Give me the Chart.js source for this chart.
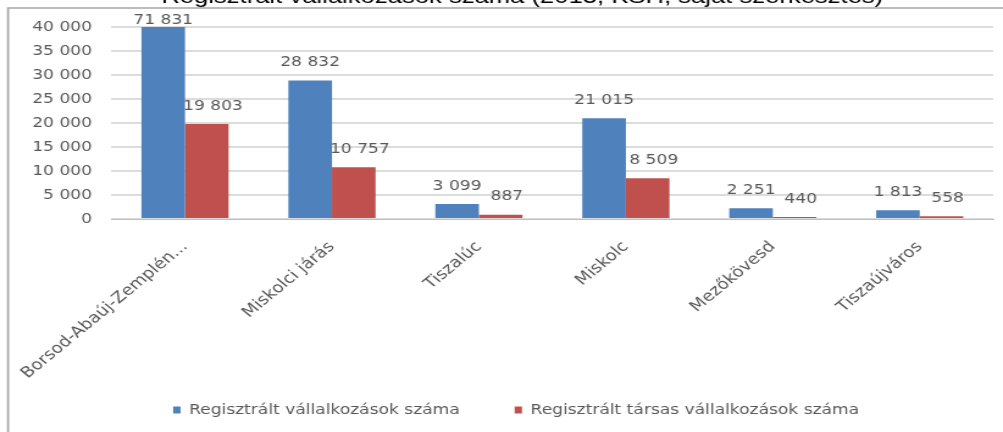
<!DOCTYPE html>
<html><head><meta charset="utf-8">
<script src="https://cdn.jsdelivr.net/npm/chart.js@4/dist/chart.umd.min.js"></script>
<style>html,body{margin:0;padding:0;background:#fff;overflow:hidden}</style>
</head><body>
<canvas id="c" width="822" height="432" style="width:1003px;height:432px;display:block"></canvas>
<script>
const titleText = 'Regisztrált vállalkozások száma (2013, KSH, saját szerkesztés)';
const categories = ['Borsod-Abaúj-Zemplén...', 'Miskolci járás', 'Tiszalúc', 'Miskolc', 'Mezőkövesd', 'Tiszaújváros'];
const seriesNames = ['Regisztrált vállalkozások száma', 'Regisztrált társas vállalkozások száma'];
const enterprises = [71831, 28832, 3099, 21015, 2251, 1813];
const companies = [19803, 10757, 887, 8509, 440, 558];
const yMin = 0, yMax = 40000, yStep = 5000;

const fmt = v => String(v).replace(/\B(?=(\d{3})+(?!\d))/g, ' ');
const TXT = '#595959';
const FONT = "'DejaVu Sans', sans-serif";

const framePlugin = {
  id: 'frame',
  beforeDraw(chart) {
    const ctx = chart.ctx;
    ctx.save();
    ctx.fillStyle = '#fff';
    ctx.fillRect(0, 0, chart.width, chart.height);
    ctx.strokeStyle = '#A6A6A6';
    ctx.lineWidth = 1.7;
    ctx.beginPath();
    ctx.moveTo(6.6, chart.height);
    ctx.lineTo(6.6, 8);
    ctx.lineTo(chart.width, 8);
    ctx.stroke();
    ctx.restore();
  },
  afterLayout(chart) {
    // let tick labels extend beyond their boxes (rotated category labels towards the legend,
    // value labels into the left margin), as in the reference
    chart.scales.x.bottom = chart.height;
    chart.scales.y.left = 0;
  },
  afterDraw(chart) {
    const ctx = chart.ctx;
    ctx.save();
    ctx.fillStyle = '#000';
    ctx.font = "21px 'Liberation Sans', Arial, sans-serif";
    ctx.textAlign = 'center';
    ctx.textBaseline = 'alphabetic';
    ctx.fillText(titleText, 428, 3);
    ctx.restore();
  }
};

const labelPlugin = {
  id: 'valueLabels',
  afterDatasetsDraw(chart) {
    const ctx = chart.ctx;
    const top = chart.chartArea.top;
    ctx.save();
    ctx.fillStyle = TXT;
    ctx.font = "14px " + FONT;
    ctx.textAlign = 'center';
    ctx.textBaseline = 'middle';
    chart.data.datasets.forEach((ds, di) => {
      const meta = chart.getDatasetMeta(di);
      meta.data.forEach((el, i) => {
        const y = el.y < top ? top - 7 : el.y - 18;
        ctx.fillText(fmt(ds.data[i]), el.x + (di === 1 ? 5 : 0), y);
      });
    });
    ctx.restore();
  }
};

new Chart(document.getElementById('c'), {
  type: 'bar',
  data: {
    labels: categories,
    datasets: [
      { label: seriesNames[0], data: enterprises, backgroundColor: '#4F81BD', borderWidth: 0 },
      { label: seriesNames[1], data: companies, backgroundColor: '#C0504D', borderWidth: 0 }
    ]
  },
  options: {
    responsive: false,
    animation: false,
    devicePixelRatio: 1,
    layout: { padding: { left: 32, right: 8, top: 27, bottom: 5 } },
    datasets: { bar: { categoryPercentage: 0.593, barPercentage: 1.0 } },
    plugins: {
      title: { display: false },
      tooltip: { enabled: false },
      legend: {
        position: 'bottom',
        labels: {
          boxWidth: 6, boxHeight: 7, padding: 45,
          color: TXT,
          font: { family: FONT, size: 14 }
        }
      }
    },
    scales: {
      x: {
        grid: { display: false, drawTicks: false },
        border: { display: true, color: '#BFBFBF', width: 1 },
        ticks: {
          color: TXT, minRotation: 45, maxRotation: 45, padding: 19, autoSkip: false,
          font: { family: FONT, size: 15 }
        },
        afterFit(scale) { scale.height = 139; scale.paddingLeft = 0; scale.paddingRight = 0; }
      },
      y: {
        min: yMin, max: yMax,
        grid: { color: '#DCDCDC', lineWidth: 2, drawTicks: false },
        border: { display: false },
        ticks: {
          stepSize: yStep, color: TXT, padding: 16,
          font: { family: FONT, size: 14 },
          callback: v => fmt(v)
        },
        afterFit(scale) { scale.width = 59.4; scale.paddingTop = 0; scale.paddingBottom = 0; }
      }
    }
  },
  plugins: [framePlugin, labelPlugin]
});
</script>
</body></html>
